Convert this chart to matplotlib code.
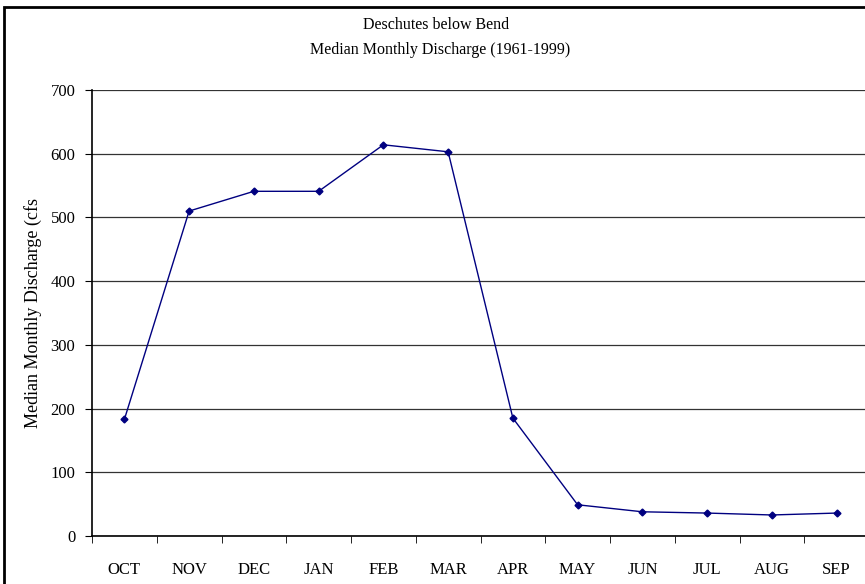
import matplotlib.pyplot as plt
from matplotlib.patches import Rectangle
import numpy as np

months = ['OCT', 'NOV', 'DEC', 'JAN', 'FEB', 'MAR', 'APR', 'MAY', 'JUN', 'JUL', 'AUG', 'SEP']
discharge = [183, 510, 541, 541, 614, 603, 185, 49, 38, 36, 33, 36]
yticks = [0, 100, 200, 300, 400, 500, 600, 700]

plt.rcParams['font.family'] = ['Liberation Serif', 'DejaVu Serif']

fig = plt.figure(figsize=(8.65, 5.84), dpi=100)
# chart frame (cropped on right and bottom like the original)
fig.patches.append(Rectangle((4 / 865, -0.05), 1.2, 1.05 - 7 / 584, transform=fig.transFigure,
                             fill=False, edgecolor='black', linewidth=2))

ax = fig.add_axes([92 / 865, 48 / 584, 777 / 865, 446 / 584])
x = np.arange(len(months))
ax.plot(x, discharge, color='#000080', linewidth=1, marker='D', markersize=3.5)

ax.set_xlim(-0.5, len(months) - 0.5)
ax.set_ylim(0, 700)
ax.set_yticks(yticks)
ax.set_xticks(x)
ax.set_xticklabels(months)
ax.set_xticks(np.arange(-0.5, len(months)), minor=True)
ax.tick_params(axis='x', which='major', length=0, pad=19, labelsize=12)
ax.tick_params(axis='x', which='minor', length=5, direction='out', color='black')
ax.tick_params(axis='y', length=5, direction='out', labelsize=12, pad=7)
ax.yaxis.grid(True, color='#333333', linewidth=0.9)
ax.set_axisbelow(True)
for s in ['top', 'right']:
    ax.spines[s].set_visible(False)
for s in ['left', 'bottom']:
    ax.spines[s].set_linewidth(1.2)

ax.set_ylabel('Median Monthly Discharge (cfs', fontsize=13)
ax.yaxis.set_label_coords(-50 / 777, 0.5)

fig.text(436 / 865, 1 - 25 / 584, 'Deschutes below Bend', ha='center', va='center', fontsize=11.5)
fig.text(440 / 865, 1 - 50 / 584, 'Median Monthly Discharge (1961-1999)', ha='center', va='center', fontsize=11.5)

fig.savefig('out.png', dpi=100)
